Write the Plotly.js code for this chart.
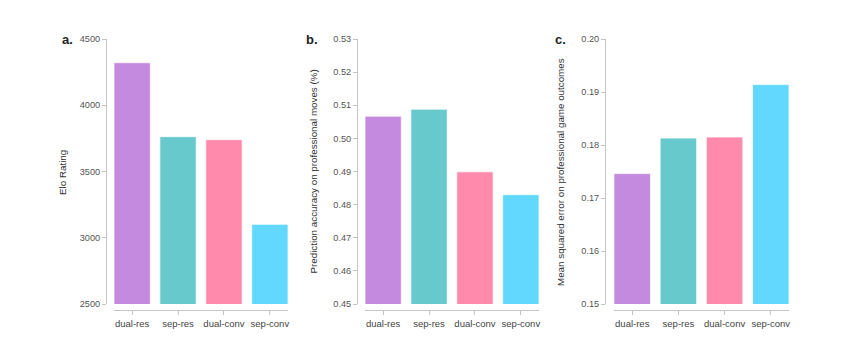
<!DOCTYPE html>
<html><head><meta charset="utf-8">
<script src="https://cdn.plot.ly/plotly-3.0.1.min.js"></script>
<style>html,body{margin:0;padding:0;background:#fff}#chart{width:861px;height:354px}</style>
</head><body><div id="chart"></div>
<script>
const categories = ["dual-res", "sep-res", "dual-conv", "sep-conv"];
const colors = ["#c48ae0", "#68c9cd", "#ff8aab", "#63d8fe"];
const eloRating = [4321, 3763, 3740, 3101];
const predictionAccuracy = [0.5067, 0.5088, 0.4899, 0.4830];
const mseOutcomes = [0.1746, 0.1813, 0.1815, 0.1914];
const panelLabels = ["a.", "b.", "c."];
const yTitles = ["Elo Rating", "Prediction accuracy on professional moves (%)", "Mean squared error on professional game outcomes"];
const yRanges = [[2500, 4500], [0.45, 0.53], [0.15, 0.20]];
const yDtick = [500, 0.01, 0.01];
const yFormats = ["d", ".2f", ".2f"];

const W = 861, H = 354;
const panels = [
  {series: eloRating, yaxisX: 106, barL: 114, barR: 288, labelX: 67, titleX: 62, titleY: 173},
  {series: predictionAccuracy, yaxisX: 357, barL: 365, barR: 539, labelX: 312, titleX: 313, titleY: 171.5},
  {series: mseOutcomes, yaxisX: 605, barL: 614, barR: 789, labelX: 560, titleX: 560, titleY: 172}
];
const yTop = 39, yBot = 304, xAxisY = 310;
const barFrac = 0.79;

const data = [], layout = {
  width: W, height: H, margin: {l: 0, r: 0, t: 0, b: 0},
  paper_bgcolor: "#fff", plot_bgcolor: "rgba(0,0,0,0)",
  showlegend: false, bargap: 1 - barFrac,
  font: {family: "Liberation Sans, Arial, sans-serif", color: "#444", size: 9},
  annotations: []
};
const axisColor = "#c4c4c4";
panels.forEach((p, i) => {
  const n = i === 0 ? "" : String(i + 1);
  data.push({
    type: "bar", x: categories, y: p.series,
    xaxis: "x" + n, yaxis: "y" + n,
    marker: {color: colors, line: {color: "rgba(255,255,255,0.7)", width: 1}},
    hoverinfo: "x+y"
  });
  layout["xaxis" + n] = {
    domain: [p.barL / W, p.barR / W],
    range: [-barFrac / 2, categories.length - 1 + barFrac / 2],
    anchor: "free", position: (H - xAxisY) / H,
    showline: true, linecolor: axisColor, linewidth: 1.2,
    ticks: "outside", ticklen: 4, tickcolor: axisColor, tickwidth: 1,
    showgrid: false, zeroline: false,
    tickfont: {size: 9.5, color: "#444"}, fixedrange: true
  };
  layout["yaxis" + n] = {
    domain: [(H - yBot) / H, (H - yTop) / H],
    range: yRanges[i], dtick: yDtick[i], tick0: yRanges[i][0], tickformat: yFormats[i],
    anchor: "free", position: p.yaxisX / W,
    showline: true, linecolor: axisColor, linewidth: 1.2,
    ticks: "outside", ticklen: 4, tickcolor: axisColor, tickwidth: 1,
    showgrid: false, zeroline: false,
    tickfont: {size: 9.2, color: "#555"},
    fixedrange: true
  };
  layout.annotations.push({
    text: yTitles[i], xref: "paper", yref: "paper", textangle: -90,
    x: p.titleX / W, y: (H - p.titleY) / H, xanchor: "center", yanchor: "middle",
    showarrow: false, font: {size: 9.8, color: "#333"}
  });
  layout.annotations.push({
    text: "<b>" + panelLabels[i] + "</b>", xref: "paper", yref: "paper",
    x: p.labelX / W, y: (H - 39) / H, xanchor: "center", yanchor: "middle",
    showarrow: false, font: {size: 13, color: "#222"}
  });
});
Plotly.newPlot("chart", data, layout, {displayModeBar: false, staticPlot: true});
</script></body></html>
